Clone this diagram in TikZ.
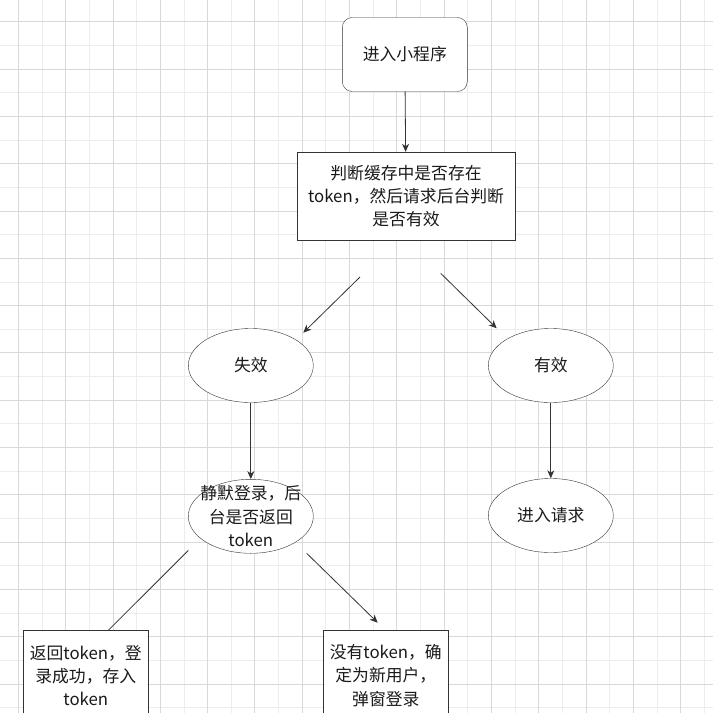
\documentclass[tikz,border=0pt]{standalone}
\usepackage{fontspec}
\setmainfont{Noto Sans CJK SC}
\usetikzlibrary{arrows.meta,shapes.geometric}
\definecolor{edgegray}{HTML}{333333}
\definecolor{textgray}{HTML}{1A1A1A}
\tikzset{
  gridmajor/.style={gray!30, line width=0.7pt},
  gridminor/.style={gray!14, line width=0.7pt},
  labeltext/.style={align=center, text=textgray, font=\fontsize{16.8}{23.3}\selectfont},
  startbox/.style={draw=edgegray, fill=white, rounded corners=10pt, minimum width=125pt, minimum height=74pt, labeltext},
  process/.style={draw=edgegray, fill=white, minimum width=125pt, minimum height=88pt, inner sep=2pt, labeltext},
  oval/.style={ellipse, draw=edgegray, fill=white, minimum width=125pt, minimum height=74pt, inner sep=0pt},
  flow/.style={draw=edgegray, line width=0.8pt, -{Stealth[length=8pt, width=7pt, inset=2.5pt]}},
  plainflow/.style={draw=edgegray, line width=0.8pt}
}
\begin{document}
\begin{tikzpicture}[x=1pt, y=-1pt]
  \clip (0,0) rectangle (713,713);
  \fill[white] (0,0) rectangle (713,713);
  % grid
  \foreach \k in {1,3,...,29} {
    \draw[gridminor] ({18.3+23.65*\k},0) -- ({18.3+23.65*\k},713);
    \draw[gridminor] (0,{21.7+23.65*\k}) -- (713,{21.7+23.65*\k});
  }
  \foreach \k in {0,2,...,28} {
    \draw[gridmajor] ({18.3+23.65*\k},0) -- ({18.3+23.65*\k},713);
    \draw[gridmajor] (0,{21.7+23.65*\k}) -- (713,{21.7+23.65*\k});
  }

  % nodes
  \node[startbox] (start) at (404.8,54.5) {进入小程序};
  \node[process, minimum width=218.6pt] (check) at (406,196) {判断缓存中是否存在\\token，然后请求后台判断\\是否有效};
  \node[oval] (fail) at (250.8,365.5) {};
  \node[labeltext] (failtext) at (fail) {失效};
  \node[oval] (valid) at (550.8,365.5) {};
  \node[labeltext] (validtext) at (valid) {有效};
  \node[oval] (request) at (550.8,515.5) {};
  \node[labeltext] (requesttext) at (request) {进入请求};
  \node[oval] (silent) at (250.8,516.3) {};
  \node[labeltext] (silenttext) at (silent) {静默登录，后\\台是否返回\\token};
  \node[process, minimum height=90pt] (hastoken) at (85.8,675.5) {返回token，登\\录成功，存入\\token};
  \node[process, minimum height=90pt] (newuser) at (385.8,675.5) {没有token，确\\定为新用户，\\弹窗登录};

  % free ends of the diagonal connectors
  \coordinate (failfrom) at (360,277);
  \coordinate (failto) at (303.3,332.7);
  \coordinate (validfrom) at (440.7,273.3);
  \coordinate (validto) at (496.7,328.3);
  \coordinate (hasfrom) at (188.3,550.5);
  \coordinate (newfrom) at (306.7,553.3);
  \coordinate (newto) at (377.7,622.7);

  % connectors
  \draw[flow] (start) -- (check);
  \draw[flow] (failfrom) -- (failto);
  \draw[flow] (validfrom) -- (validto);
  \draw[flow] (fail) -- (silent);
  \draw[flow] (valid) -- (request);
  \draw[plainflow] (hasfrom) -- (hastoken.north -| 108.3,0);
  \draw[flow] (newfrom) -- (newto);
\end{tikzpicture}
\end{document}
